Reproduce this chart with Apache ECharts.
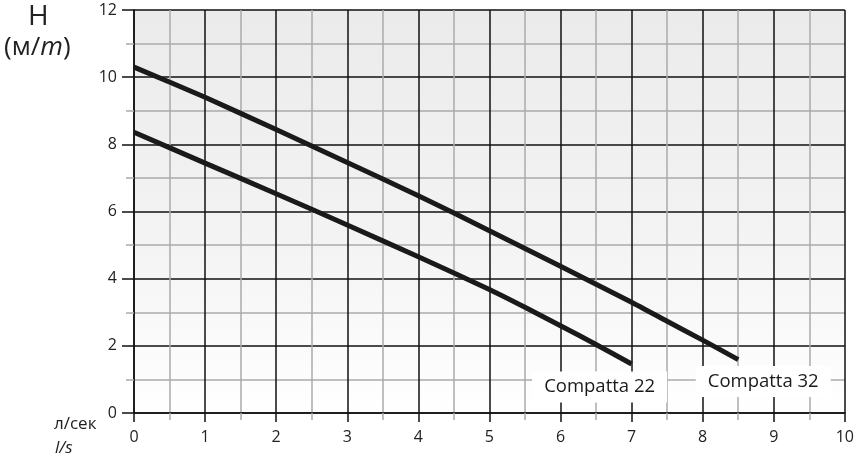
<!DOCTYPE html>
<html>
<head>
<meta charset="utf-8">
<script src="https://cdn.jsdelivr.net/npm/echarts@6/dist/echarts.min.js"></script>
<style>html,body{margin:0;padding:0;background:#fff}#c{width:857px;height:466px}</style>
</head>
<body>
<div id="c"></div>
<script>
const xCompatta22 = [0, 1, 2, 3, 4, 5, 5.5, 6, 6.5, 7];
const yCompatta22 = [8.36, 7.44, 6.53, 5.6, 4.65, 3.68, 3.15, 2.6, 2.04, 1.46];
const xCompatta32 = [0, 1, 2, 3, 4, 5, 6, 7, 7.5, 8, 8.5];
const yCompatta32 = [10.3, 9.4, 8.44, 7.46, 6.47, 5.43, 4.37, 3.3, 2.73, 2.17, 1.59];
const seriesNames = ['Compatta 22', 'Compatta 32'];
const xTicks = [0,1,2,3,4,5,6,7,8,9,10];
const yTicks = [0,2,4,6,8,10,12];

const font = '"Open Sans", "Noto Sans", sans-serif';
function pts(xs, ys){ return xs.map((x,i)=>[x, ys[i]]); }

function mkSeries(name, xs, ys, off){
  const data = pts(xs, ys);
  const last = data[data.length-1];
  return {
    type:'line', name:name, data:data, showSymbol:false, symbol:'none', smooth:0.2,
    lineStyle:{color:'#1a1a1a', width:5, cap:'butt', join:'round'},
    markPoint:{
      symbol:'circle', symbolSize:1, itemStyle:{color:'rgba(0,0,0,0)'},
      silent:true,
      data:[{coord:last, value:name}],
      label:{show:true, position:'inside', offset:off, formatter:name,
        fontFamily:font, fontSize:18.5, color:'#1a1a1a',
        backgroundColor:'#fff', padding:[6,12]}
    },
    z:5
  };
}

const chart = echarts.init(document.getElementById('c'), null, {renderer:'canvas'});
chart.setOption({
  animation:false,
  backgroundColor:'#fff',
  grid:{left:134, right:8, top:10, bottom:53, show:true, borderWidth:0,
    backgroundColor:{type:'linear', x:0, y:0, x2:0, y2:1, colorStops:[
      {offset:0, color:'#ebebeb'}, {offset:0.55, color:'#f3f3f3'}, {offset:1, color:'#ffffff'}]}},
  xAxis:{type:'value', min:0, max:10, interval:1,
    axisLine:{show:true, onZero:false, lineStyle:{color:'#111', width:1.5}},
    axisTick:{show:true, length:9, lineStyle:{color:'#111', width:1.5}},
    minorTick:{show:true, splitNumber:2, length:7, lineStyle:{color:'#aaa', width:1.5}},
    splitLine:{show:true, lineStyle:{color:'#111', width:1.5}},
    minorSplitLine:{show:true, lineStyle:{color:'#ababab', width:1.5}},
    axisLabel:{margin:16, fontFamily:font, fontSize:16, color:'#222',
      formatter:v=> xTicks.includes(v) ? String(v) : ''}
  },
  yAxis:{type:'value', min:0, max:12, interval:2,
    axisLine:{show:true, onZero:false, lineStyle:{color:'#111', width:1.5}},
    axisTick:{show:true, length:12, lineStyle:{color:'#111', width:1.5}},
    minorTick:{show:true, splitNumber:2, length:8, lineStyle:{color:'#aaa', width:1.5}},
    splitLine:{show:true, lineStyle:{color:'#111', width:1.5}},
    minorSplitLine:{show:true, lineStyle:{color:'#ababab', width:1.5}},
    axisLabel:{margin:17, fontFamily:font, fontSize:16, color:'#222',
      formatter:v=> yTicks.includes(v) ? String(v) : ''}
  },
  series:[
    mkSeries(seriesNames[0], xCompatta22, yCompatta22, [-32, 23]),
    mkSeries(seriesNames[1], xCompatta32, yCompatta32, [25, 22])
  ],
  graphic:[
    {type:'text', left:28, top:3, style:{text:'H', font:'28px '+font, fill:'#222'}},
    {type:'text', left:4, top:35, style:{
      text:'(м/{i|m})', font:'26px '+font, fill:'#222',
      rich:{i:{fontStyle:'italic', fontSize:26, fontFamily:font, fill:'#222'}}}},
    {type:'text', left:54, top:416, style:{text:'л/сек', font:'17px '+font, fill:'#222'}},
    {type:'text', left:55, top:440, style:{text:'l/s', font:'italic 17px '+font, fill:'#222'}}
  ]
});
</script>
</body>
</html>
